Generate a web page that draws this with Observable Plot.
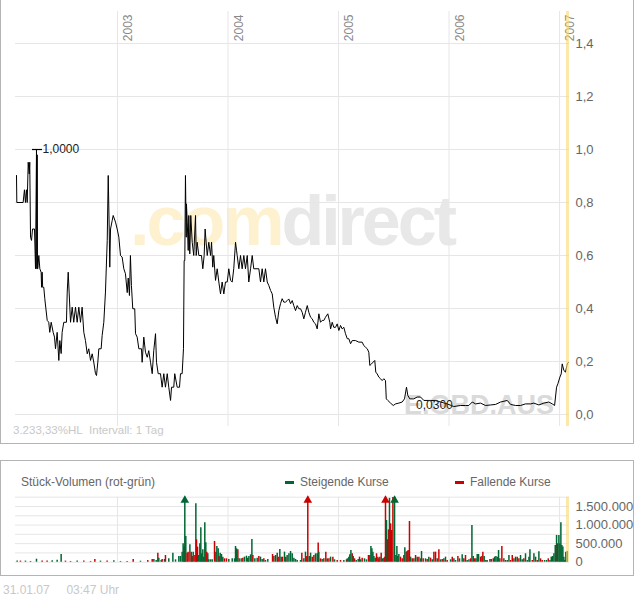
<!DOCTYPE html>
<html><head><meta charset="utf-8">
<script src="https://cdn.jsdelivr.net/npm/d3@7"></script>
<script src="https://cdn.jsdelivr.net/npm/@observablehq/plot@0.6"></script>
<style>
body{margin:0;background:#fff;font-family:"Liberation Sans",Arial,sans-serif;}
#wrap{position:relative;width:634px;height:597px;overflow:hidden;background:#fff;}
.abs{position:absolute;white-space:nowrap;}
.t{line-height:1;}
</style></head><body><div id="wrap">
<div class="abs" style="left:0;top:-1px;width:634px;height:445px;border:1px solid #b4b4b4;box-sizing:border-box;"></div>
<div class="abs" style="left:0;top:460px;width:634px;height:116px;border:1px solid #b4b4b4;box-sizing:border-box;"></div>
<div id="price" class="abs" style="left:0;top:0"></div>
<div id="vol" class="abs" style="left:0;top:490px"></div>
<div class="abs t" style="left:13px;top:425px;font-size:11.5px;color:#c8c8c8">3.233,33%HL&nbsp; Intervall: 1 Tag</div>
<div class="abs t" style="left:21px;top:476px;font-size:12px;color:#666">Stück-Volumen (rot-grün)</div>
<div class="abs" style="left:285px;top:481px;width:9px;height:3px;background:#006633"></div>
<div class="abs t" style="left:300px;top:476px;font-size:12px;color:#666">Steigende Kurse</div>
<div class="abs" style="left:455px;top:481px;width:9px;height:3px;background:#cc0000"></div>
<div class="abs t" style="left:470px;top:476px;font-size:12px;color:#666">Fallende Kurse</div>
<div class="abs t" style="left:3px;top:584px;font-size:12px;color:#c8c8c8">31.01.07&nbsp;&nbsp;&nbsp;&nbsp; 03:47 Uhr</div>
</div>
<script>
const years = [2003, 2004, 2005, 2006, 2007];
const priceTicks = [0, 0.2, 0.4, 0.6, 0.8, 1.0, 1.2, 1.4];
const volumeGrid = [0, 250000, 500000, 750000, 1000000, 1250000, 1500000, 1750000];
const volumeTicks = [0, 500000, 1000000, 1500000];
const currentDay = [2007.063, 2007.090];

const priceYear = [
2002.086,2002.089,2002.146,2002.158,2002.167,2002.176,2002.183,2002.192,
2002.201,2002.206,2002.213,2002.222,2002.231,2002.249,2002.258,2002.267,
2002.270,2002.273,2002.276,2002.279,2002.288,2002.297,2002.309,2002.313,
2002.318,2002.323,2002.333,2002.342,2002.364,2002.378,2002.387,2002.400,
2002.418,2002.430,2002.439,2002.454,2002.469,2002.478,2002.490,2002.499,
2002.514,2002.538,2002.545,2002.554,2002.563,2002.575,2002.590,2002.604,
2002.620,2002.635,2002.650,2002.665,2002.680,2002.695,2002.710,2002.726,
2002.740,2002.756,2002.771,2002.785,2002.801,2002.810,2002.822,2002.831,
2002.852,2002.861,2002.876,2002.891,2002.907,2002.916,2002.925,2002.930,
2002.937,2002.952,2002.961,2002.982,2002.997,2003.012,2003.027,2003.042,
2003.057,2003.072,2003.088,2003.097,2003.108,2003.117,2003.126,2003.138,
2003.156,2003.163,2003.178,2003.193,2003.217,2003.223,2003.238,2003.253,
2003.269,2003.283,2003.299,2003.314,2003.328,2003.344,2003.353,2003.368,
2003.389,2003.404,2003.419,2003.434,2003.450,2003.464,2003.480,2003.489,
2003.509,2003.518,2003.540,2003.561,2003.570,2003.585,2003.597,2003.603,
2003.609,2003.615,2003.622,2003.624,2003.631,2003.640,2003.645,2003.654,
2003.663,2003.676,2003.690,2003.706,2003.712,2003.721,2003.736,2003.760,
2003.772,2003.784,2003.793,2003.802,2003.812,2003.826,2003.842,2003.851,
2003.862,2003.871,2003.887,2003.902,2003.917,2003.932,2003.947,2003.962,
2003.977,2003.993,2004.007,2004.023,2004.038,2004.052,2004.068,2004.077,
2004.083,2004.098,2004.113,2004.128,2004.143,2004.158,2004.174,2004.188,
2004.204,2004.219,2004.233,2004.279,2004.294,2004.309,2004.324,2004.339,
2004.355,2004.369,2004.385,2004.400,2004.414,2004.430,2004.445,2004.460,
2004.475,2004.490,2004.505,2004.520,2004.536,2004.550,2004.566,2004.581,
2004.595,2004.611,2004.626,2004.641,2004.656,2004.671,2004.686,2004.701,
2004.717,2004.731,2004.747,2004.762,2004.776,2004.792,2004.807,2004.822,
2004.837,2004.852,2004.867,2004.882,2004.903,2004.921,2004.928,2004.943,
2004.957,2004.973,2004.988,2005.003,2005.018,2005.033,2005.048,2005.063,
2005.079,2005.093,2005.109,2005.124,2005.154,2005.184,2005.214,2005.229,
2005.244,2005.260,2005.274,2005.283,2005.299,2005.314,2005.328,2005.337,
2005.350,2005.365,2005.380,2005.395,2005.410,2005.425,2005.432,2005.446,
2005.471,2005.495,2005.516,2005.546,2005.576,2005.597,2005.615,2005.627,
2005.645,2005.681,2005.712,2005.742,2005.772,2005.833,2005.878,2005.923,
2005.984,2006.043,2006.104,2006.149,2006.179,2006.210,2006.240,2006.285,
2006.330,2006.376,2006.421,2006.466,2006.527,2006.557,2006.602,2006.647,
2006.692,2006.738,2006.767,2006.813,2006.858,2006.903,2006.934,2006.955,
2006.973,2006.985,2007.003,2007.015,2007.024,2007.039,2007.054,2007.070,
2007.081];
const priceValue = [
.902,.80,.80,.848,.80,.848,.80,.952,
.908,.952,.669,.657,.70,.70,.55,1.0,
.55,.98,.55,.55,.60,.55,.537,.48,
.537,.48,.48,.437,.355,.348,.31,.348,
.31,.292,.248,.31,.204,.279,.23,.31,
.348,.348,.462,.537,.455,.348,.405,.348,
.405,.348,.405,.348,.405,.31,.279,.229,
.248,.204,.229,.198,.154,.147,.198,.248,
.248,.298,.348,.462,.657,.902,.70,.556,
.70,.732,.751,.726,.70,.669,.60,.594,
.55,.531,.46,.515,.449,.60,.487,.399,
.399,.305,.292,.248,.248,.197,.292,.235,
.216,.241,.197,.154,.241,.305,.197,.154,
.154,.103,.154,.103,.154,.103,.053,.103,
.103,.154,.103,.103,.154,.154,.248,.581,
.581,.902,.669,.795,.726,.619,.751,.606,
.751,.65,.60,.751,.60,.65,.60,.60,
.55,.60,.70,.65,.60,.65,.60,.65,
.556,.60,.506,.55,.50,.455,.50,.455,
.50,.50,.55,.506,.50,.55,.65,.62,
.60,.55,.60,.55,.60,.55,.60,.50,
.55,.60,.55,.55,.50,.55,.50,.55,
.50,.487,.468,.455,.405,.367,.342,.392,
.418,.437,.424,.424,.43,.436,.418,.43,
.411,.392,.411,.399,.399,.386,.361,.386,
.411,.386,.367,.361,.348,.342,.323,.38,
.348,.355,.355,.367,.38,.348,.323,.348,
.329,.329,.342,.317,.336,.323,.329,.305,
.286,.286,.267,.279,.279,.273,.273,.26,
.254,.248,.235,.185,.191,.198,.204,.16,
.153,.141,.135,.128,.135,.128,.059,.053,
.043,.034,.04,.043,.047,.059,.103,.072,
.059,.059,.066,.066,.053,.053,.053,.047,
.04,.03,.034,.034,.034,.047,.04,.043,
.034,.036,.038,.047,.053,.038,.034,.034,
.04,.04,.043,.036,.043,.047,.04,.034,
.103,.116,.141,.153,.191,.166,.16,.191,
.197];

const volYear = [
2002.092,2002.122,2002.167,2002.213,2002.267,2002.318,2002.363,2002.409,2002.454,2002.490,
2002.529,2002.575,2002.635,2002.695,2002.756,2002.795,2002.846,2002.906,2002.967,2003.027,
2003.087,2003.142,2003.208,2003.274,2003.314,2003.329,2003.350,2003.365,2003.374,2003.395,
2003.404,2003.425,2003.434,2003.464,2003.501,2003.525,2003.555,2003.570,2003.585,2003.594,
2003.603,2003.609,2003.618,2003.630,2003.639,2003.655,2003.667,2003.676,2003.685,2003.700,
2003.709,2003.715,2003.724,2003.733,2003.745,2003.754,2003.763,2003.772,2003.781,2003.790,
2003.799,2003.808,2003.817,2003.826,2003.842,2003.857,2003.878,2003.890,2003.899,2003.911,
2003.920,2003.929,2003.941,2003.953,2003.968,2003.986,2004.007,2004.038,2004.059,2004.068,
2004.077,2004.089,2004.101,2004.119,2004.134,2004.149,2004.167,2004.179,2004.189,2004.204,
2004.216,2004.225,2004.243,2004.264,2004.279,2004.294,2004.309,2004.324,2004.339,2004.360,
2004.403,2004.415,2004.430,2004.445,2004.454,2004.469,2004.481,2004.493,2004.511,2004.523,
2004.535,2004.551,2004.566,2004.581,2004.596,2004.611,2004.626,2004.656,2004.668,2004.686,
2004.701,2004.713,2004.722,2004.735,2004.747,2004.762,2004.777,2004.792,2004.807,2004.816,
2004.822,2004.837,2004.852,2004.867,2004.885,2004.898,2004.913,2004.928,2004.949,2004.964,
2004.988,2005.018,2005.048,2005.072,2005.079,2005.093,2005.102,2005.112,2005.124,2005.133,
2005.145,2005.160,2005.178,2005.190,2005.199,2005.214,2005.235,2005.253,2005.271,2005.283,
2005.293,2005.302,2005.311,2005.320,2005.332,2005.344,2005.356,2005.365,2005.374,2005.386,
2005.398,2005.410,2005.419,2005.425,2005.434,2005.443,2005.452,2005.461,2005.471,2005.480,
2005.492,2005.507,2005.519,2005.528,2005.537,2005.546,2005.561,2005.576,2005.591,2005.600,
2005.612,2005.621,2005.630,2005.642,2005.652,2005.667,2005.682,2005.697,2005.712,2005.727,
2005.742,2005.751,2005.766,2005.787,2005.802,2005.817,2005.833,2005.848,2005.863,2005.878,
2005.893,2005.908,2005.923,2005.938,2005.953,2005.968,2005.983,2006.014,2006.029,2006.044,
2006.059,2006.080,2006.095,2006.119,2006.134,2006.149,2006.164,2006.180,2006.195,2006.207,
2006.219,2006.231,2006.243,2006.255,2006.267,2006.285,2006.297,2006.306,2006.318,2006.333,
2006.345,2006.370,2006.382,2006.400,2006.412,2006.424,2006.436,2006.448,2006.460,2006.478,
2006.496,2006.511,2006.527,2006.542,2006.557,2006.572,2006.587,2006.602,2006.617,2006.632,
2006.647,2006.662,2006.677,2006.692,2006.708,2006.723,2006.732,2006.753,2006.768,2006.783,
2006.798,2006.813,2006.828,2006.843,2006.864,2006.882,2006.898,2006.913,2006.925,2006.937,
2006.949,2006.961,2006.973,2006.982,2006.994,2007.003,2007.012,2007.021,2007.030,2007.039,
2007.048,2007.057,2007.070];
const volValue = [
30000,30000,30000,20000,80000,30000,30000,40000,50000,210000,
30000,20000,30000,30000,20000,70000,30000,30000,40000,20000,
20000,70000,27000,46000,73000,73000,46000,244000,109000,46000,
73000,73000,180000,91000,244000,64000,154000,154000,271000,496000,
406000,2200000,692000,244000,271000,469000,271000,154000,271000,180000,
1572000,604000,406000,180000,496000,925000,226000,334000,136000,1060000,
523000,271000,226000,64000,64000,64000,559000,271000,424000,361000,
154000,244000,208000,136000,91000,91000,73000,91000,91000,424000,
361000,334000,91000,91000,109000,136000,163000,109000,154000,199000,
613000,180000,91000,109000,154000,136000,73000,91000,46000,73000,
208000,154000,180000,244000,136000,343000,136000,136000,271000,136000,
180000,226000,289000,226000,109000,73000,46000,46000,244000,91000,
271000,154000,2000000,154000,244000,136000,180000,226000,226000,514000,
271000,91000,73000,91000,271000,91000,91000,136000,136000,64000,
46000,46000,46000,64000,91000,136000,199000,316000,226000,154000,
91000,46000,73000,136000,64000,109000,91000,64000,180000,180000,
424000,361000,271000,154000,109000,226000,136000,91000,136000,244000,
91000,109000,136000,2400000,1123000,604000,871000,1720000,1033000,853000,
1740000,1900000,180000,424000,154000,208000,136000,91000,180000,388000,
271000,289000,316000,1096000,136000,91000,91000,180000,136000,136000,
91000,289000,91000,91000,73000,136000,109000,64000,271000,271000,
91000,334000,64000,73000,91000,136000,46000,64000,136000,91000,
46000,154000,91000,199000,91000,180000,46000,64000,91000,988000,
154000,91000,91000,208000,208000,136000,154000,271000,154000,46000,
46000,73000,73000,91000,136000,154000,136000,316000,91000,424000,
91000,46000,46000,180000,46000,180000,91000,136000,136000,91000,
180000,64000,91000,226000,46000,136000,334000,46000,226000,136000,
46000,280000,91000,46000,46000,46000,91000,46000,136000,154000,
226000,451000,720000,496000,720000,496000,1060000,451000,406000,136000,
46000,271000,289000];
const volUp = [
1,0,1,0,1,0,0,1,1,1,
0,0,1,0,1,0,1,0,1,1,
1,0,1,0,0,1,1,0,1,1,
0,1,0,1,1,1,1,1,1,1,
0,1,1,0,0,1,0,0,1,0,
1,0,0,1,1,1,0,1,0,1,
1,0,1,1,1,1,0,1,1,1,
0,1,1,1,0,0,1,1,1,1,
1,0,1,1,0,1,1,0,1,1,
1,0,1,1,0,1,1,0,1,1,
0,1,0,1,0,1,1,0,1,0,
1,1,1,1,1,1,1,1,0,1,
1,0,0,1,1,0,0,1,1,0,
1,0,1,0,0,1,0,1,0,1,
0,0,1,0,1,1,1,1,0,1,
0,1,1,0,1,0,1,1,0,1,
1,1,1,1,1,0,1,0,1,0,
1,1,0,0,1,0,0,1,0,0,
0,1,1,1,0,1,0,0,1,1,
1,0,0,0,1,0,1,0,1,0,
1,1,0,1,0,1,0,1,0,0,
1,0,1,0,1,1,0,1,0,1,
1,0,1,1,0,0,1,1,0,1,
1,0,1,1,1,0,1,0,1,0,
1,0,1,0,1,1,1,1,0,0,
1,0,1,1,0,0,1,0,1,0,
1,1,0,1,1,1,1,0,1,1,
0,1,0,0,1,1,0,1,1,1,
1,1,1,0,1,1,1,1,1,1,
1,1,1];

const GREEN = "#006633", RED = "#cc0000", GRID = "#e6e6e6", BAND = "#fad96e";
const FONT = "Liberation Sans, Arial, sans-serif";
const xDomain = [2002.077, 2007.090];

const priceData = priceYear.map((x, i) => ({x, v: priceValue[i]}));
const volData = volYear.map((x, i) => ({x, v: volValue[i], c: volUp[i] ? GREEN : RED}));
const maxI = d3.maxIndex(priceValue), minI = d3.minIndex(priceValue);
const dec = (d, n) => d.toFixed(n).replace(".", ",");
const de = d => d3.format(",")(d).replace(/,/g, ".");
const hline = {draw(ctx) { ctx.moveTo(-4.5, 0); ctx.lineTo(5.5, 0); }};
const VMAX = 1750000;

const price = Plot.plot({
  width: 634, height: 443,
  marginLeft: 15, marginRight: 65, marginTop: 11, marginBottom: 17,
  style: {background: "transparent", fontFamily: FONT},
  x: {domain: xDomain, axis: null},
  y: {domain: [-0.0453, 1.5208], axis: null},
  marks: [
    Plot.ruleY(priceTicks, {stroke: GRID}),
    Plot.ruleX(years, {stroke: GRID}),
    Plot.text(years, {x: d => d, frameAnchor: "top", text: d => String(d), rotate: -90,
      textAnchor: "end", dx: 6, dy: 3, fill: "#8a8a8a", fontSize: 12}),
    Plot.line(priceData, {x: "x", y: "v", stroke: "#000", strokeWidth: 1}),
    Plot.dot([priceData[maxI]], {x: "x", y: "v", symbol: hline, r: 5, stroke: "#000", strokeWidth: 1.2}),
    Plot.text([priceData[maxI]], {x: "x", y: "v", text: d => dec(d.v, 4), textAnchor: "start",
      dx: 6, fill: "#222", fontSize: 12}),
    Plot.text([priceData[minI]], {x: "x", y: "v", text: d => dec(d.v, 4), textAnchor: "end",
      dx: -1, dy: -1, fill: "#222", fontSize: 12}),
    Plot.rect([currentDay], {x1: d => d[0], x2: d => d[1], fill: BAND, fillOpacity: 0.6}),
    Plot.text(priceTicks, {y: d => d, frameAnchor: "right", textAnchor: "start", dx: 6,
      text: d => dec(d, 1), fill: "#666", fontSize: 13})
  ]
});
{
  const svg = d3.select(price);
  const g = svg.insert("g", ":first-child").attr("font-family", FONT).attr("text-anchor", "start");
  const t = g.append("text").attr("x", 130).attr("y", 245).attr("font-size", 70)
    .attr("font-weight", "bold").attr("letter-spacing", -3).attr("text-anchor", "start");
  t.append("tspan").attr("fill", "#fdf1cf").text(".com");
  t.append("tspan").attr("fill", "#e8e8e8").text("direct");
  g.append("text").attr("x", 404).attr("y", 414).attr("font-size", 27).attr("text-anchor", "start")
    .attr("font-weight", "bold").attr("fill", "#dadada").text("E.GBD.AUS");
}
document.getElementById("price").appendChild(price);

const vol = Plot.plot({
  width: 634, height: 80,
  marginLeft: 15, marginRight: 65, marginTop: 6.7, marginBottom: 8.3,
  style: {background: "transparent", fontFamily: FONT, overflow: "visible"},
  x: {domain: xDomain, axis: null},
  y: {domain: [0, VMAX], axis: null, clamp: true},
  color: {type: "identity"},
  marks: [
    Plot.ruleY(volumeGrid, {stroke: GRID}),
    Plot.ruleX(years, {stroke: GRID}),
    Plot.ruleX(volData, {x: "x", y1: 0, y2: "v", stroke: "c", strokeWidth: 1.5}),
    Plot.dot(volData.filter(d => d.v > VMAX), {x: "x", frameAnchor: "top", dy: 3,
      symbol: "triangle", r: 3.2, fill: "c"}),
    Plot.rect([currentDay], {x1: d => d[0], x2: d => d[1], fill: BAND, fillOpacity: 0.6}),
    Plot.text(volumeTicks, {y: d => d, frameAnchor: "right", textAnchor: "start", dx: 6,
      text: de, fill: "#666", fontSize: 13})
  ]
});
document.getElementById("vol").appendChild(vol);
</script>
</body></html>
